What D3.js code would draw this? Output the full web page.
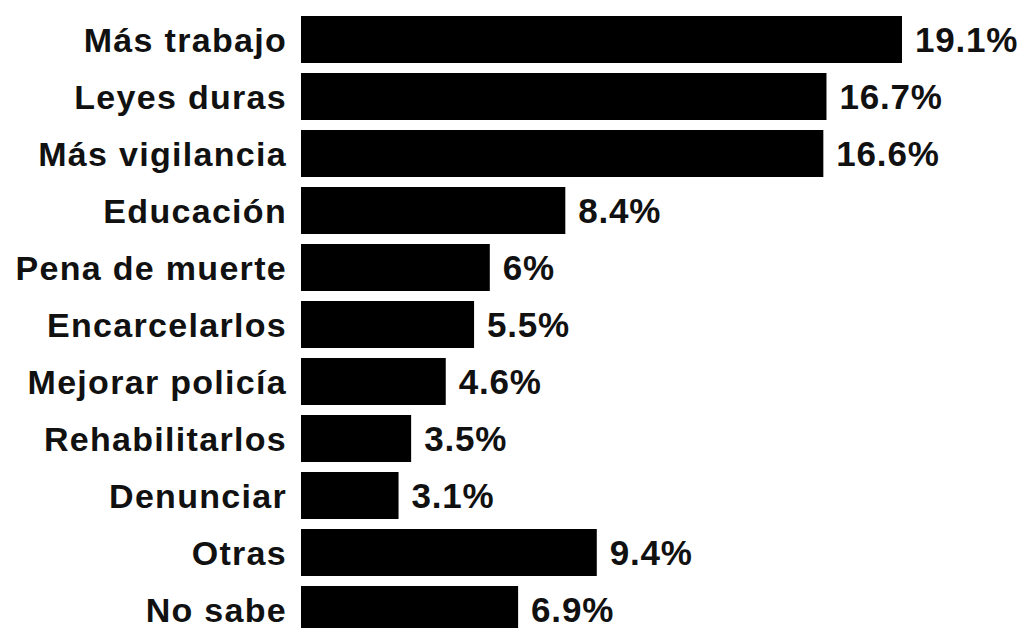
<!DOCTYPE html>
<html>
<head>
<meta charset="utf-8">
<script src="https://cdn.jsdelivr.net/npm/d3@7"></script>
<style>
  html, body { margin: 0; padding: 0; background: #fff; }
  svg { display: block; }
</style>
</head>
<body>
<svg id="chart" width="1023" height="628"></svg>
<script>
const categories = ["Más trabajo", "Leyes duras", "Más vigilancia", "Educación", "Pena de muerte",
  "Encarcelarlos", "Mejorar policía", "Rehabilitarlos", "Denunciar", "Otras", "No sabe"];
const values = [19.1, 16.7, 16.6, 8.4, 6, 5.5, 4.6, 3.5, 3.1, 9.4, 6.9];
const valueLabels = ["19.1%", "16.7%", "16.6%", "8.4%", "6%", "5.5%", "4.6%", "3.5%", "3.1%", "9.4%", "6.9%"];

const data = categories.map((c, i) => ({ cat: c, value: values[i], label: valueLabels[i] }));

const svg = d3.select("#chart");
const x = d3.scaleLinear().domain([0, 19.1]).range([301, 902]);
const y = d3.scaleBand().domain(categories).range([11, 638])
  .paddingInner(10 / 57).paddingOuter(5 / 57);

const g = svg.append("g");

g.selectAll("rect.bar").data(data).join("rect")
  .attr("class", "bar")
  .attr("x", x(0))
  .attr("y", d => y(d.cat))
  .attr("width", d => x(d.value) - x(0))
  .attr("height", y.bandwidth())
  .attr("fill", "#000");

g.selectAll("text.cat").data(data).join("text")
  .attr("class", "cat")
  .attr("x", x(0) - 14)
  .attr("y", d => y(d.cat) + y.bandwidth() / 2 + 12.5)
  .attr("text-anchor", "end")
  .attr("font-family", "Liberation Sans, Arial, sans-serif")
  .attr("font-weight", "bold")
  .attr("font-size", 34)
  .attr("letter-spacing", 1.3)
  .attr("fill", "#111")
  .text(d => d.cat);

g.selectAll("text.val").data(data).join("text")
  .attr("class", "val")
  .attr("x", d => x(d.value) + 13)
  .attr("y", d => y(d.cat) + y.bandwidth() / 2 + 12.5)
  .attr("text-anchor", "start")
  .attr("font-family", "Liberation Sans, Arial, sans-serif")
  .attr("font-weight", "bold")
  .attr("font-size", 35)
  .attr("letter-spacing", 0.8)
  .attr("fill", "#111")
  .text(d => d.label);
</script>
</body>
</html>
